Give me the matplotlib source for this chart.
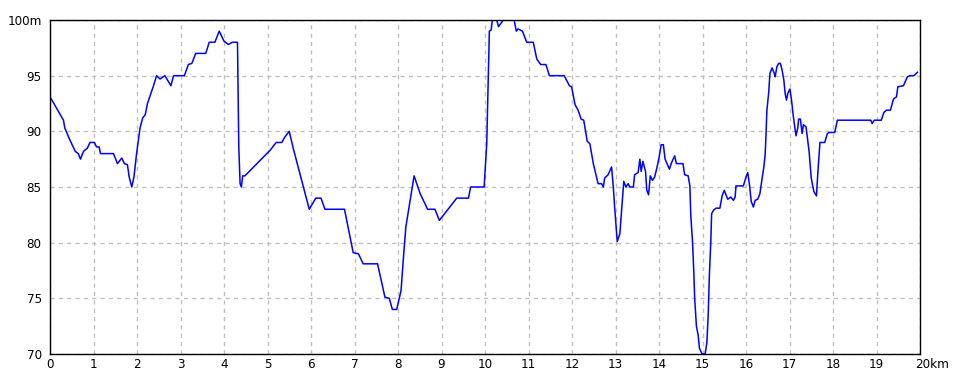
#!/usr/bin/env python3
"""Elevation profile along a 20 km route."""

import matplotlib

matplotlib.use("Agg")
import matplotlib.pyplot as plt
from matplotlib.transforms import ScaledTranslation

# distance (km) and elevation (m)
DIST_KM = [
    0.00, 0.31, 0.34, 0.46, 0.58, 0.65, 0.70, 0.77, 0.86, 0.92, 1.02, 1.07, 1.13, 1.16,
    1.46, 1.55, 1.65, 1.71, 1.78, 1.82, 1.88, 1.93, 1.99, 2.07, 2.13, 2.19, 2.24, 2.31,
    2.38, 2.45, 2.53, 2.64, 2.78, 2.84, 3.09, 3.18, 3.26, 3.35, 3.58, 3.66, 3.79, 3.89,
    4.00, 4.10, 4.19, 4.31, 4.32, 4.34, 4.37, 4.40, 4.43, 4.48, 5.06, 5.20, 5.33, 5.40,
    5.50, 5.59, 5.96, 6.11, 6.23, 6.32, 6.77, 6.97, 7.09, 7.20, 7.53, 7.70, 7.80, 7.87,
    7.97, 8.07, 8.12, 8.18, 8.28, 8.37, 8.51, 8.68, 8.85, 8.95, 9.35, 9.62, 9.67, 9.98,
    10.04, 10.08, 10.10, 10.14, 10.17, 10.27, 10.31, 10.42, 10.67, 10.72, 10.76, 10.86,
    10.96, 11.11, 11.19, 11.28, 11.40, 11.48, 11.82, 11.94, 11.99, 12.07, 12.14, 12.21,
    12.27, 12.35, 12.41, 12.49, 12.60, 12.68, 12.72, 12.75, 12.83, 12.91, 12.95, 12.98,
    13.04, 13.10, 13.14, 13.19, 13.24, 13.29, 13.33, 13.41, 13.44, 13.52, 13.56, 13.59,
    13.63, 13.69, 13.72, 13.76, 13.80, 13.85, 13.90, 13.95, 14.00, 14.05, 14.10, 14.14,
    14.24, 14.29, 14.36, 14.40, 14.55, 14.59, 14.67, 14.71, 14.73, 14.77, 14.80, 14.82,
    14.86, 14.90, 14.93, 14.99, 15.06, 15.10, 15.13, 15.16, 15.19, 15.21, 15.25, 15.31,
    15.40, 15.45, 15.50, 15.58, 15.65, 15.71, 15.75, 15.77, 15.94, 16.00, 16.04, 16.08,
    16.12, 16.17, 16.21, 16.27, 16.32, 16.36, 16.41, 16.44, 16.46, 16.48, 16.52, 16.55,
    16.60, 16.65, 16.67, 16.71, 16.75, 16.79, 16.83, 16.87, 16.90, 16.93, 16.96, 17.01,
    17.05, 17.08, 17.11, 17.15, 17.19, 17.21, 17.25, 17.29, 17.32, 17.38, 17.45, 17.50,
    17.56, 17.62, 17.65, 17.70, 17.81, 17.87, 17.91, 18.04, 18.10, 18.87, 18.90, 18.95,
    19.11, 19.17, 19.23, 19.32, 19.39, 19.46, 19.49, 19.62, 19.71, 19.77, 19.86, 19.94,
]
ELEV_M = [
    93.1, 91.0, 90.3, 89.2, 88.2, 88.0, 87.5, 88.2, 88.5, 89.0, 89.0, 88.6, 88.6, 88.0,
    88.0, 87.1, 87.6, 87.1, 87.0, 85.9, 85.0, 85.9, 88.0, 90.3, 91.2, 91.5, 92.5, 93.3,
    94.1, 95.0, 94.7, 95.0, 94.1, 95.0, 95.0, 96.0, 96.1, 97.0, 97.0, 98.0, 98.0, 99.0,
    98.1, 97.8, 98.0, 98.0, 94.9, 88.6, 85.3, 85.0, 86.0, 86.0, 88.3, 89.0, 89.0, 89.5,
    90.0, 88.5, 83.0, 84.0, 84.0, 83.0, 83.0, 79.1, 79.0, 78.1, 78.1, 75.1, 75.0, 74.0,
    74.0, 75.7, 78.4, 81.4, 83.8, 86.0, 84.4, 83.0, 83.0, 82.0, 84.0, 84.0, 85.0, 85.0,
    88.9, 95.7, 99.0, 99.1, 100.0, 100.0, 99.4, 100.0, 100.0, 99.0, 99.2, 99.0,
    98.0, 98.0, 96.5, 96.0, 96.0, 95.0, 95.0, 94.1, 94.0, 92.4, 91.9, 91.1,
    91.0, 89.1, 88.9, 87.1, 85.3, 85.3, 85.0, 85.8, 86.1, 86.8, 85.0, 83.2,
    80.1, 80.8, 82.9, 85.5, 85.0, 85.3, 85.0, 85.0, 86.1, 86.3, 87.5, 86.4,
    87.3, 86.4, 84.7, 84.3, 86.0, 85.6, 85.9, 86.7, 87.6, 88.8, 88.8, 87.5,
    86.6, 87.2, 87.8, 87.1, 87.1, 86.1, 86.0, 85.1, 82.5, 80.1, 77.4, 75.0,
    72.5, 71.7, 70.5, 70.0, 70.0, 71.0, 73.4, 77.3, 80.0, 82.6, 82.9, 83.1,
    83.1, 84.2, 84.7, 83.9, 84.1, 83.8, 84.1, 85.1, 85.1, 85.9, 86.3, 85.2,
    83.7, 83.2, 83.8, 83.9, 84.4, 85.5, 86.8, 87.9, 89.7, 91.9, 93.4, 95.2,
    95.7, 95.2, 94.9, 95.8, 96.1, 96.1, 95.5, 94.6, 93.4, 92.8, 93.4, 93.8,
    92.7, 91.6, 90.7, 89.6, 90.3, 91.1, 91.1, 89.8, 90.6, 90.4, 88.2, 85.8,
    84.6, 84.2, 86.2, 89.0, 89.0, 89.8, 89.9, 89.9, 91.0, 91.0, 90.7, 91.0,
    91.0, 91.7, 91.9, 91.9, 92.9, 93.1, 94.0, 94.1, 94.9, 95.0, 95.0, 95.3,
]
X_TICKS = list(range(0, 21))
X_LABELS = [str(k) for k in range(20)] + ["20km"]
Y_TICKS = [70, 75, 80, 85, 90, 95, 100]
Y_LABELS = ["70", "75", "80", "85", "90", "95", "100m"]

plt.rcParams["font.family"] = ["DejaVu Sans"]
plt.rcParams["font.stretch"] = "condensed"

fig = plt.figure(figsize=(9.6, 3.84), dpi=100)
ax = fig.add_axes([50 / 960, 30 / 384, 870 / 960, 334 / 384])

ax.plot(DIST_KM, ELEV_M, color="#0000ff", linewidth=1.1)

ax.set_xlim(0, 20)
ax.set_ylim(70, 100)
ax.set_xticks(X_TICKS)
ax.set_xticklabels(X_LABELS, fontsize=9.5)
ax.set_yticks(Y_TICKS)
ax.set_yticklabels(Y_LABELS, fontsize=9.5)
ax.tick_params(axis="x", length=0, pad=3)
ax.tick_params(axis="y", length=0, pad=6)

# "20km" starts at the last tick instead of being centred on it
last = ax.get_xticklabels()[-1]
last.set_horizontalalignment("left")
last.set_transform(last.get_transform() + ScaledTranslation(-5 / 100, 0, fig.dpi_scale_trans))

ax.grid(True, color="#c0c0c0", linestyle=(0, (3, 3)), linewidth=1)
for sp in ax.spines.values():
    sp.set_color("black")
    sp.set_linewidth(1)

fig.savefig("out.png", dpi=100)
